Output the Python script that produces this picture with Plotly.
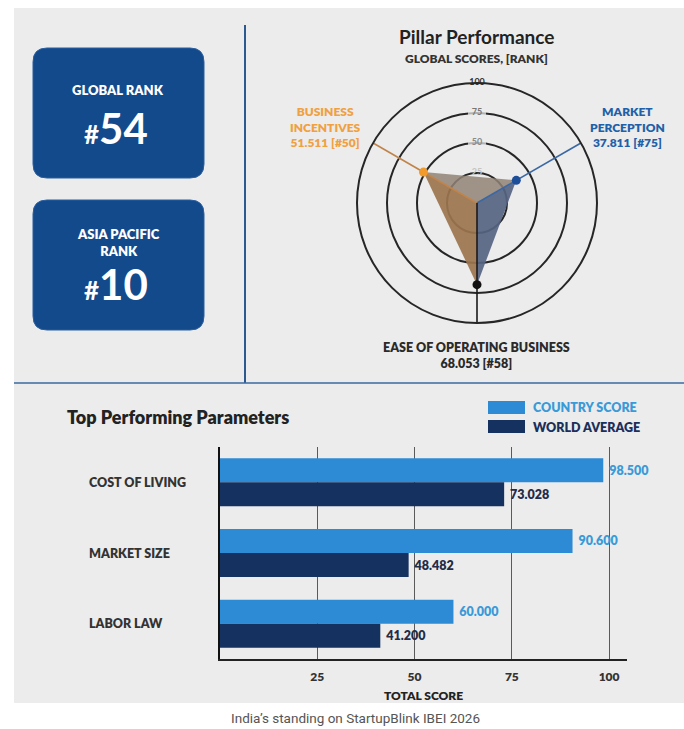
import plotly.graph_objects as go

# ---------------- data ----------------
rank_titles = ["GLOBAL RANK", "ASIA PACIFIC<br>RANK"]
rank_values = [54, 10]

pillars_line1 = ["BUSINESS<br>INCENTIVES", "MARKET<br>PERCEPTION", "EASE OF OPERATING BUSINESS"]
pillar_scores = [51.511, 37.811, 68.053]
pillar_ranks = [50, 75, 58]
pillar_angles = [150, 30, 270]
radial_ticks = [25, 50, 75, 100]

params = ["COST OF LIVING", "MARKET SIZE", "LABOR LAW"]
country_score = [98.5, 90.6, 60.0]
world_average = [73.028, 48.482, 41.2]
score_ticks = [25, 50, 75, 100]

# ---------------- helpers ----------------
W, H = 684, 729
def px(x):
    return x / W
def py(y):
    return 1 - y / H

FONT = "Lato"
BG = "#ececec"
NAVY_BOX = "#134a8c"
C_COUNTRY = "#2d8bd6"
C_WORLD = "#15315f"
C_ORANGE = "#f0a040"
C_BLUE = "#2160a8"

fig = go.Figure()

# ---------------- radar ----------------
th = pillar_angles
r = pillar_scores
sub = [
    (0, 2, "rgba(156,116,78,0.92)"),   # business incentives -> ease
    (1, 2, "rgba(86,100,130,0.92)"),   # market perception -> ease
    (0, 1, "rgba(146,132,118,0.85)"),  # business incentives -> market perception
]
for a, b, col in sub:
    fig.add_trace(go.Scatterpolar(
        r=[0, r[a], r[b], 0], theta=[0, th[a], th[b], 0],
        mode="lines", fill="toself", fillcolor=col,
        line=dict(width=0, color=col), hoverinfo="skip", showlegend=False))

line_cols = ["#c0844a", "#3a68a4", "#1a1a1a"]
for i in range(3):
    fig.add_trace(go.Scatterpolar(
        r=[0, radial_ticks[-1]], theta=[th[i], th[i]], mode="lines",
        line=dict(color=line_cols[i], width=1.6), hoverinfo="skip", showlegend=False))

fig.add_trace(go.Scatterpolar(
    r=radial_ticks, theta=[90] * len(radial_ticks), mode="markers+text",
    text=[str(v) for v in radial_ticks], textposition="middle center",
    textfont=dict(family=FONT, size=9, color=["#c4c4c4", "#8a8a8a", "#777777", "#333333"], weight="bold"),
    marker=dict(symbol="square", size=[1, 18, 18, 22],
                color=["rgba(0,0,0,0)", BG, BG, BG], line=dict(width=0)),
    hoverinfo="skip", showlegend=False))

fig.add_trace(go.Scatterpolar(
    r=r, theta=th, mode="markers",
    marker=dict(size=9, color=["#f39a2c", "#1d4e9a", "#111111"]),
    hoverinfo="skip", showlegend=False))

fig.update_layout(polar=dict(
    domain=dict(x=[px(357), px(597)], y=[py(323), py(83)]),
    bgcolor="rgba(0,0,0,0)",
    radialaxis=dict(range=[0, 100], tickvals=radial_ticks, showticklabels=False,
                    ticks="", showline=False, gridcolor="#262626", gridwidth=1.8, angle=90),
    angularaxis=dict(thetaunit="degrees", rotation=0, direction="counterclockwise",
                     showgrid=False, showticklabels=False, ticks="",
                     showline=True, linecolor="#262626", linewidth=2),
))

# ---------------- bars ----------------
fig.add_trace(go.Bar(
    y=params, x=country_score, orientation="h", name="COUNTRY SCORE",
    marker=dict(color=C_COUNTRY, line=dict(width=0)),
    text=[f" {v:.3f}" for v in country_score], textposition="outside",
    textfont=dict(family=FONT, size=12.5, color="#3a9ad8", weight=800),
    constraintext="none", cliponaxis=False, showlegend=False, xaxis="x", yaxis="y"))
fig.add_trace(go.Bar(
    y=params, x=world_average, orientation="h", name="WORLD AVERAGE",
    marker=dict(color=C_WORLD, line=dict(width=0)),
    text=[f" {v:.3f}" for v in world_average], textposition="outside",
    textfont=dict(family=FONT, size=12.5, color="#1f2d4a", weight=800),
    constraintext="none", cliponaxis=False, showlegend=False, xaxis="x", yaxis="y"))

fig.update_layout(
    barmode="group", bargap=0.32, bargroupgap=0,
    xaxis=dict(domain=[px(220), px(627)], range=[0, 104.6], tickvals=score_ticks,
               showgrid=True, gridcolor="#5a5a5a", gridwidth=1, zeroline=False,
               showline=True, linecolor="#222222", linewidth=2, ticks="",
               ticklabelstandoff=6,
               tickfont=dict(family=FONT, size=12, color="#333333", weight=800),
               title=dict(text="TOTAL SCORE", standoff=8,
                          font=dict(family=FONT, size=12, color="#222222", weight=800))),
    yaxis=dict(domain=[py(659), py(447)], autorange="reversed", showticklabels=False,
               showgrid=False, showline=True, linecolor="#111111", linewidth=2, ticks=""),
)

# ---------------- shapes ----------------
shapes = []
shapes.append(dict(type="rect", xref="paper", yref="paper", x0=px(14), x1=px(684),
                   y0=py(703), y1=py(8), fillcolor=BG, line=dict(width=0), layer="below"))
shapes.append(dict(type="line", xref="paper", yref="paper", x0=px(245), x1=px(245),
                   y0=py(383), y1=py(25), line=dict(color="#2b5a90", width=2)))
shapes.append(dict(type="line", xref="paper", yref="paper", x0=px(14), x1=px(684),
                   y0=py(383), y1=py(383), line=dict(color="#3a6aa0", width=1.5)))

def rounded_rect(x0, y0, x1, y1, rad):
    rx, ry = rad / W, rad / H
    X0, X1, Y0, Y1 = px(x0), px(x1), py(y1), py(y0)
    return (f"M {X0+rx},{Y0} L {X1-rx},{Y0} Q {X1},{Y0} {X1},{Y0+ry} "
            f"L {X1},{Y1-ry} Q {X1},{Y1} {X1-rx},{Y1} L {X0+rx},{Y1} "
            f"Q {X0},{Y1} {X0},{Y1-ry} L {X0},{Y0+ry} Q {X0},{Y0} {X0+rx},{Y0} Z")

box_tops = [48, 200]
for t in box_tops:
    shapes.append(dict(type="path", xref="paper", yref="paper",
                       path=rounded_rect(33, t, 204, t + 130, 14),
                       fillcolor=NAVY_BOX, line=dict(color="#2a5fa0", width=1)))

shapes.append(dict(type="rect", xref="paper", yref="paper", x0=px(488), x1=px(525),
                   y0=py(414), y1=py(401), fillcolor=C_COUNTRY, line=dict(width=0)))
shapes.append(dict(type="rect", xref="paper", yref="paper", x0=px(488), x1=px(525),
                   y0=py(433), y1=py(420), fillcolor=C_WORLD, line=dict(width=0)))

# ---------------- annotations ----------------
ann = []
def A(text, x, y, size, color, xanchor="center", weight="bold", family=FONT, **kw):
    ann.append(dict(text=text, x=px(x), y=py(y), xref="paper", yref="paper",
                    showarrow=False, xanchor=xanchor, yanchor="middle",
                    font=dict(family=family, size=size, color=color, weight=weight), **kw))

A(rank_titles[0], 118, 90, 13, "white", weight=800)
A(f"<span style='font-size:26px'>#</span>{rank_values[0]}", 116, 128, 42, "white")
A(rank_titles[1], 118, 243, 13, "white", weight=800)
A(f"<span style='font-size:26px'>#</span>{rank_values[1]}", 116, 284, 42, "white")

A("Pillar Performance", 477, 37, 19, "#222222")
A("GLOBAL SCORES, [RANK]", 477, 58, 12, "#333333", weight=800)

A(f"{pillars_line1[0]}<br>{pillar_scores[0]:.3f} [#{pillar_ranks[0]}]", 325, 127, 12, C_ORANGE, weight=800)
A(f"{pillars_line1[1]}<br>{pillar_scores[1]:.3f} [#{pillar_ranks[1]}]", 627, 127, 12, C_BLUE, weight=800)
A(f"{pillars_line1[2]}<br>{pillar_scores[2]:.3f} [#{pillar_ranks[2]}]", 477, 355, 12.5, "#2a2a2a", weight=800)

A("Top Performing Parameters", 65, 417, 18, "#222222", xanchor="left", weight=800)
A("COUNTRY SCORE", 531, 407, 12.5, "#3a9ad8", xanchor="left", weight=800)
A("WORLD AVERAGE", 531, 427, 12.5, "#1a2f5a", xanchor="left", weight=800)
for p in params:
    ann.append(dict(text=p, x=px(87), y=p, xref="paper", yref="y", showarrow=False,
                    xanchor="left", yanchor="middle",
                    font=dict(family=FONT, size=12.5, color="#333333", weight=800)))

A("India\u2019s standing on StartupBlink IBEI 2026", 355, 718, 13.5, "#555555",
  weight="normal", family="Roboto")

fig.update_layout(
    width=W, height=H, margin=dict(l=0, r=0, t=0, b=0),
    paper_bgcolor="white", plot_bgcolor="rgba(0,0,0,0)",
    shapes=shapes, annotations=ann, showlegend=False,
)

fig.write_html("out.html", config={"displayModeBar": False},
               post_script="document.body.style.margin='0';")
